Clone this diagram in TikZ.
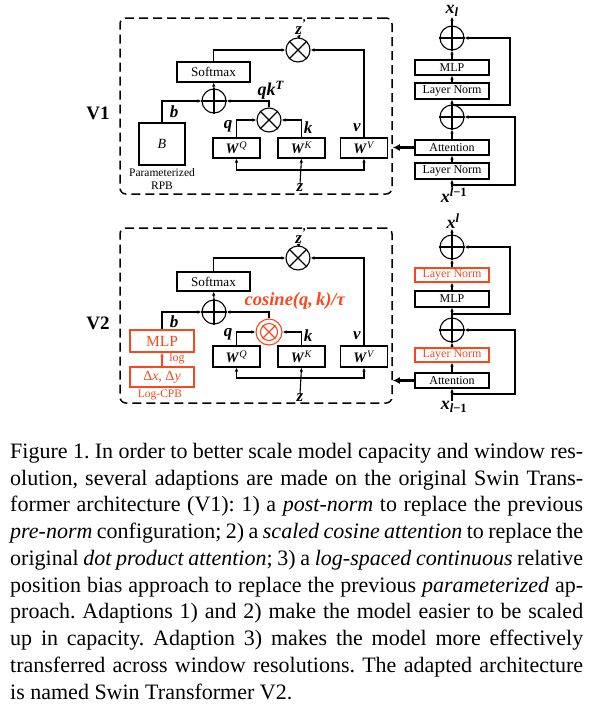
\documentclass[tikz,border=0pt]{standalone}
\usepackage{fontspec}
\setmainfont{Liberation Serif}
\usetikzlibrary{arrows.meta,positioning,calc}
\definecolor{cpbred}{RGB}{250,72,30}
\newcommand{\bivar}[1]{\textbf{\textit{#1}}}

\begin{document}
\begin{tikzpicture}[x=1pt,y=-1pt,
  blk/.style={draw,line width=1.1pt,inner sep=0,minimum width=74,minimum height=16,font=\fontsize{12}{13}\selectfont},
  wblk/.style={draw,line width=1.1pt,inner sep=0,minimum width=47,minimum height=20,font=\fontsize{14.5}{15}\selectfont},
  op/.style={circle,draw,line width=1.1pt,minimum size=24,inner sep=0},
  lab/.style={inner sep=0,font=\fontsize{17}{18}\selectfont},
  arr/.style={line width=1.1pt,-{Latex[length=4pt,width=3.5pt]}},
  bigarr/.style={line width=2.6pt,-{Latex[length=7pt,width=7pt]}},
  dashbox/.style={draw,line width=1.5pt,dash pattern=on 9pt off 5pt,rounded corners=6,minimum width=272,minimum height=176,inner sep=0},
  redblk/.style={draw=cpbred,text=cpbred,line width=1.1pt,inner sep=0}]
\useasboundingbox (0,0) rectangle (596,713);

% ---------------- V1 ----------------
\node[dashbox] (box1) at (256,106) {};
\node[inner sep=0,font=\fontsize{19}{20}\selectfont\bfseries] (v1) at (98,113) {V1};

\node[op] (mtop1) at (298,50) {};
\node[lab] (zp1) at (301,27) {\bivar{z}\textsuperscript{\textbf{'}}};
\node[blk,minimum width=73,minimum height=20,font=\fontsize{13.2}{14}\selectfont] (soft1) at (213.5,72) {Softmax};
\node[op] (add1) at (214,101) {};
\node[op] (mqk1) at (269,120) {};
\node[lab,font=\fontsize{18}{18}\selectfont] (qk1) at (271,90) {\bivar{qk}\textsuperscript{\bivar{T}}};
\node[draw,line width=1.1pt,minimum width=46,minimum height=42,inner sep=0,font=\fontsize{14}{14}\selectfont] (rpb1) at (162,144) {\textit{B}};
\node[inner sep=0,align=center,font=\fontsize{11.5}{12.5}\selectfont] (rpbl1) at (162,179) {Parameterized\\RPB};
\node[lab] (b1) at (174,112) {\bivar{b}};
\foreach \n/\x in {Q/236.5,K/301.5,V/364}{
  \node[wblk] (w\n1) at (\x,148) {\bivar{W}\textsuperscript{\textit{\n}}};
}
\node[lab] (q1) at (228,126) {\bivar{q}};
\node[lab] (k1) at (308,128) {\bivar{k}};
\node[lab] (vv1) at (357,128) {\bivar{v}};
\node[lab] (z1) at (300,188) {\bivar{z}};
\coordinate (bus1) at (301.5,170);

% op symbols
\foreach \m in {mtop1,mqk1}{
  \draw[line width=1.1pt] (\m.north west) -- (\m.south east) (\m.north east) -- (\m.south west);
}
\draw[line width=1.1pt] (add1.north) -- (add1.south) (add1.west) -- (add1.east);

% connectors
\draw[arr] (z1.north) -- (wK1.south);
\draw[arr] (bus1) -| (wQ1.south);
\draw[arr] (bus1) -| (wV1.south);
\draw[arr] (wQ1.north) |- (mqk1.west);
\draw[arr] (wK1.north) |- (mqk1.east);
\draw[arr] (mqk1.north) |- (add1.east);
\draw[arr] (rpb1.north) |- (add1.west);
\draw[arr] (add1.north) -- (soft1.south);
\draw[arr] (soft1.north) |- (mtop1.west);
\draw[arr] (wV1.north) |- (mtop1.east);
\draw[arr] (mtop1.north) -- (zp1.south);

% block V1
\node[lab,font=\fontsize{18}{18}\selectfont] (xo1) at (452,11) {\bivar{x}\textsubscript{\bivar{l}}};
\node[op] (ra1) at (452,38) {};
\node[blk,minimum height=15] (mlp1) at (452,67.5) {MLP};
\node[blk] (ln1) at (452,91) {Layer Norm};
\node[op] (rb1) at (452,117) {};
\node[blk,minimum height=15] (att1) at (452,147.5) {Attention};
\node[blk] (ln1b) at (452,171) {Layer Norm};
\node[lab,font=\fontsize{18}{18}\selectfont] (xi1) at (454,195) {\bivar{x}\textsuperscript{\bivar{l}\textbf{\char"2212 1}}};
\foreach \m in {ra1,rb1}{
  \draw[line width=1.1pt] (\m.north) -- (\m.south) (\m.west) -- (\m.east);
}
\coordinate (sk1) at (452,185);
\coordinate (sk1b) at (452,105);
\draw[arr] (xi1.north -| ln1b.south) -- (ln1b.south);
\draw[arr] (ln1b.north) -- (att1.south);
\draw[arr] (att1.north) -- (rb1.south);
\draw[arr] (rb1.north) -- (ln1.south);
\draw[arr] (ln1.north) -- (mlp1.south);
\draw[arr] (mlp1.north) -- (ra1.south);
\draw[arr] (ra1.north) -- (xo1.south);
\draw[arr] (sk1) -- ++(63,0) |- (rb1.east);
\draw[arr] (sk1b) -- ++(58,0) |- (ra1.east);
\draw[bigarr] (att1.west) -- (box1.east |- att1.west);

% ---------------- V2 ----------------
\node[dashbox,minimum height=175] (box2) at (256,315.5) {};
\node[inner sep=0,font=\fontsize{19}{20}\selectfont\bfseries] (v2) at (98,323) {V2};

\node[op] (mtop2) at (298,258) {};
\node[lab] (zp2) at (301,236) {\bivar{z}\textsuperscript{\textbf{'}}};
\node[blk,minimum width=73,minimum height=19,font=\fontsize{13.2}{14}\selectfont] (soft2) at (213.5,281.5) {Softmax};
\node[op] (add2) at (214,312) {};
\node[op,draw=cpbred,minimum size=26] (mqk2) at (269,332) {};
\node[circle,draw=cpbred,line width=1.1pt,minimum size=17,inner sep=0] (mqk2in) at (mqk2) {};
\node[lab,text=cpbred,font=\fontsize{18.5}{19}\selectfont] (cos2) at (295,301) {\bivar{cosine(q,\,k)/τ}};
\node[redblk,minimum width=64,minimum height=22,font=\fontsize{15.5}{16}\selectfont] (mlpr2) at (162,341) {MLP};
\node[redblk,minimum width=64,minimum height=20,font=\fontsize{14}{16}\selectfont] (dxy2) at (162,377) {Δ\textit{x}, Δ\textit{y}};
\node[inner sep=0,text=cpbred,font=\fontsize{12}{12}\selectfont] (log2) at (177,359) {log};
\node[inner sep=0,text=cpbred,font=\fontsize{11.5}{12}\selectfont] (cpb2) at (160,395) {Log-CPB};
\node[lab] (b2) at (174,322) {\bivar{b}};
\foreach \n/\x in {Q/236.5,K/301.5,V/364}{
  \node[wblk,minimum height=21] (w\n2) at (\x,356.5) {\bivar{W}\textsuperscript{\textit{\n}}};
}
\node[lab] (q2) at (228,334) {\bivar{q}};
\node[lab] (k2) at (308,336) {\bivar{k}};
\node[lab] (vv2) at (357,336) {\bivar{v}};
\node[lab] (z2) at (300,398) {\bivar{z}};
\coordinate (bus2) at (301.5,378);

% op symbols
\draw[line width=1.1pt] (mtop2.north west) -- (mtop2.south east) (mtop2.north east) -- (mtop2.south west);
\draw[line width=1.1pt,cpbred] (mqk2in.north west) -- (mqk2in.south east) (mqk2in.north east) -- (mqk2in.south west);
\draw[line width=1.1pt] (add2.north) -- (add2.south) (add2.west) -- (add2.east);

% connectors
\draw[arr] (z2.north) -- (wK2.south);
\draw[arr] (bus2) -| (wQ2.south);
\draw[arr] (bus2) -| (wV2.south);
\draw[arr] (wQ2.north) |- (mqk2.west);
\draw[arr] (wK2.north) |- (mqk2.east);
\draw[arr] (mqk2.north) |- (add2.east);
\draw[arr] (mlpr2.north) |- (add2.west);
\draw[arr,cpbred] (dxy2.north) -- (mlpr2.south);
\draw[arr] (add2.north) -- (soft2.south);
\draw[arr] (soft2.north) |- (mtop2.west);
\draw[arr] (wV2.north) |- (mtop2.east);
\draw[arr] (mtop2.north) -- (zp2.south);

% block V2
\node[lab,font=\fontsize{18}{18}\selectfont] (xo2) at (453,221) {\bivar{x}\textsuperscript{\bivar{l}}};
\node[op] (ra2) at (452,247) {};
\node[redblk,minimum width=74,minimum height=14,font=\fontsize{12}{13}\selectfont] (ln2) at (452,275) {Layer Norm};
\node[blk] (mlp2) at (452,299) {MLP};
\node[op] (rb2) at (452,330) {};
\node[redblk,minimum width=74,minimum height=14,font=\fontsize{12}{13}\selectfont] (ln2b) at (452,355) {Layer Norm};
\node[blk,minimum height=15] (att2) at (452,380.5) {Attention};
\node[lab,font=\fontsize{18}{18}\selectfont] (xi2) at (454,407) {\bivar{x}\textsubscript{\bivar{l}\textbf{\char"2212 1}}};
\foreach \m in {ra2,rb2}{
  \draw[line width=1.1pt] (\m.north) -- (\m.south) (\m.west) -- (\m.east);
}
\coordinate (sk2) at (452,394);
\coordinate (sk2b) at (452,314);
\draw[arr] (xi2.north -| att2.south) -- (att2.south);
\draw[arr] (att2.north) -- (ln2b.south);
\draw[arr] (ln2b.north) -- (rb2.south);
\draw[arr] (rb2.north) -- (mlp2.south);
\draw[arr] (mlp2.north) -- (ln2.south);
\draw[arr] (ln2.north) -- (ra2.south);
\draw[arr] (ra2.north) -- (xo2.south -| ra2.north);
\draw[arr] (sk2) -- ++(63,0) |- (rb2.east);
\draw[arr] (sk2b) -- ++(58,0) |- (ra2.east);
\draw[bigarr] (att2.west) -- (box2.east |- att2.west);

% caption
\node[anchor=north west,inner sep=0,align=left,font=\fontsize{22}{26.75}\selectfont\frenchspacing] (cap) at (10,443) {%
\makebox[573pt][s]{Figure 1. In order to better scale model capacity and window res-}\\
\makebox[573pt][s]{olution, several adaptions are made on the original Swin Trans-}\\
\makebox[573pt][s]{former architecture (V1):\ 1) a \textit{post-norm} to replace the previous}\\
\makebox[573pt][s]{\textit{pre-norm} configuration; 2) a \textit{scaled cosine attention} to replace the}\\
\makebox[573pt][s]{original \textit{dot product attention}; 3) a \textit{log-spaced continuous} relative}\\
\makebox[573pt][s]{position bias approach to replace the previous \textit{parameterized} ap-}\\
\makebox[573pt][s]{proach.\ Adaptions 1) and 2) make the model easier to be scaled}\\
\makebox[573pt][s]{up in capacity.\ Adaption 3) makes the model more effectively}\\
\makebox[573pt][s]{transferred across window resolutions.\ The adapted architecture}\\
is named Swin Transformer V2.};
\end{tikzpicture}
\end{document}
